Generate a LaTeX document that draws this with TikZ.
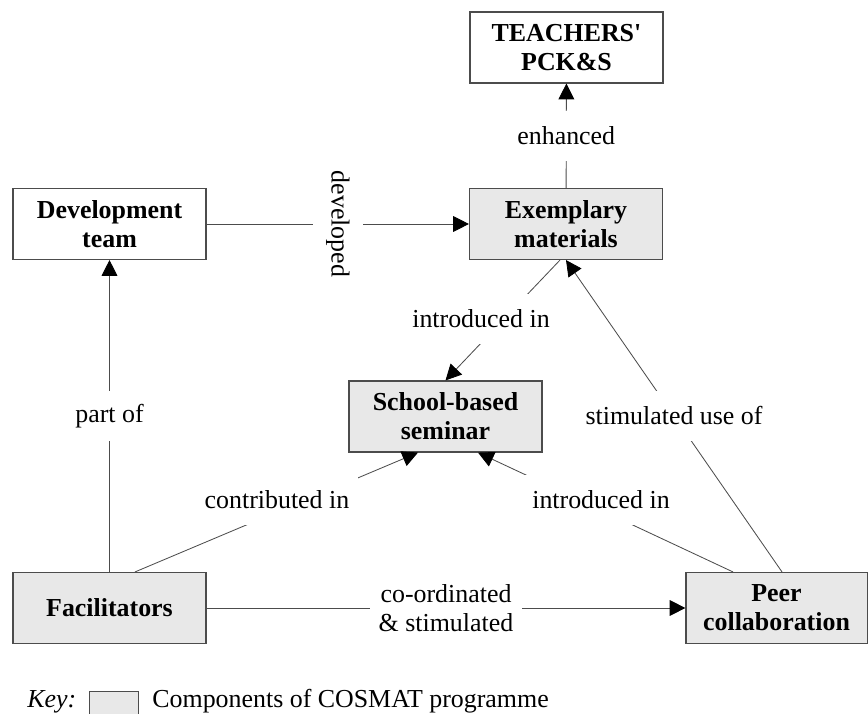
\documentclass[tikz,border=0pt]{standalone}
\usepackage{fontspec}
\setmainfont{Liberation Serif}[Ligatures=TeXOff]
\usepackage{xcolor}
\usetikzlibrary{calc,arrows.meta}
\definecolor{compgray}{gray}{0.91}
\definecolor{linegray}{gray}{0.3}

\begin{document}
\begin{tikzpicture}[x=0.019cm,y=-0.019cm,font=\fontsize{14}{15.7}\selectfont,
  box/.style={draw=linegray,line width=0.6pt,align=center,font=\fontsize{14}{15.7}\selectfont\bfseries,
    minimum width=3.667cm,minimum height=1.349cm,inner sep=0pt},
  comp/.style={box,fill=compgray},
  link/.style={draw=linegray,line width=0.45pt},
  arr/.style={link,-{Triangle[length=8.5pt,width=8.5pt,black]}},
  lbl/.style={fill=white,inner xsep=0.171cm,inner ysep=0pt,minimum height=0.95cm,align=center}]
\clip(0,0)rectangle(868,714);
% boxes
\node[box](teach)at(566.5,47.5){TEACHERS'\\PCK\&S};
\node[box](dev)at(109.5,224){Development\\team};
\node[comp](exem)at(566,224){Exemplary\\materials};
\node[comp](school)at(445.5,416.5){School-based\\seminar};
\node[comp](fac)at(109.5,608){Facilitators};
\node[comp,minimum width=3.44cm](peer)at(776.5,608){Peer\\collaboration};
% links
\draw[arr](dev)--node[lbl,rotate=-90](ldev){developed}(exem);
\draw[arr](exem)--node[lbl](lenh){enhanced}(teach);
\draw[arr](fac)--node[lbl](lpart){part of}(dev);
\draw[arr]($(peer.north)+(5.5,0)$)--node[lbl](lstim){stimulated use of}(exem.south);
\draw[arr](fac)--node[lbl](lcoord){co-ordinated\\\& stimulated}(peer);
\draw[arr]($(exem.south)+(-6,0)$)--(school.north);
\draw[arr]($(fac.north)+(25.5,0)$)--($(school.south)+(-27.5,0)$);
\draw[arr]($(peer.north)+(-43.5,0)$)--($(school.south)+(32.5,0)$);
\node[lbl](lintro)at(481,319){introduced in};
\node[lbl](lcontr)at(277,500){contributed in};
\node[lbl](lintro2)at(601,500){introduced in};
% key
\node[anchor=base west,inner sep=0pt,font=\fontsize{14}{15.7}\selectfont\itshape](keylbl)at(27,707){Key:};
\node[draw=linegray,fill=compgray,anchor=north west,minimum width=0.93cm,minimum height=0.7cm](keybox)at(89,691){};
\node[anchor=base west,inner sep=0pt](keytxt)at(152,707){Components of COSMAT programme};
\end{tikzpicture}
\end{document}
